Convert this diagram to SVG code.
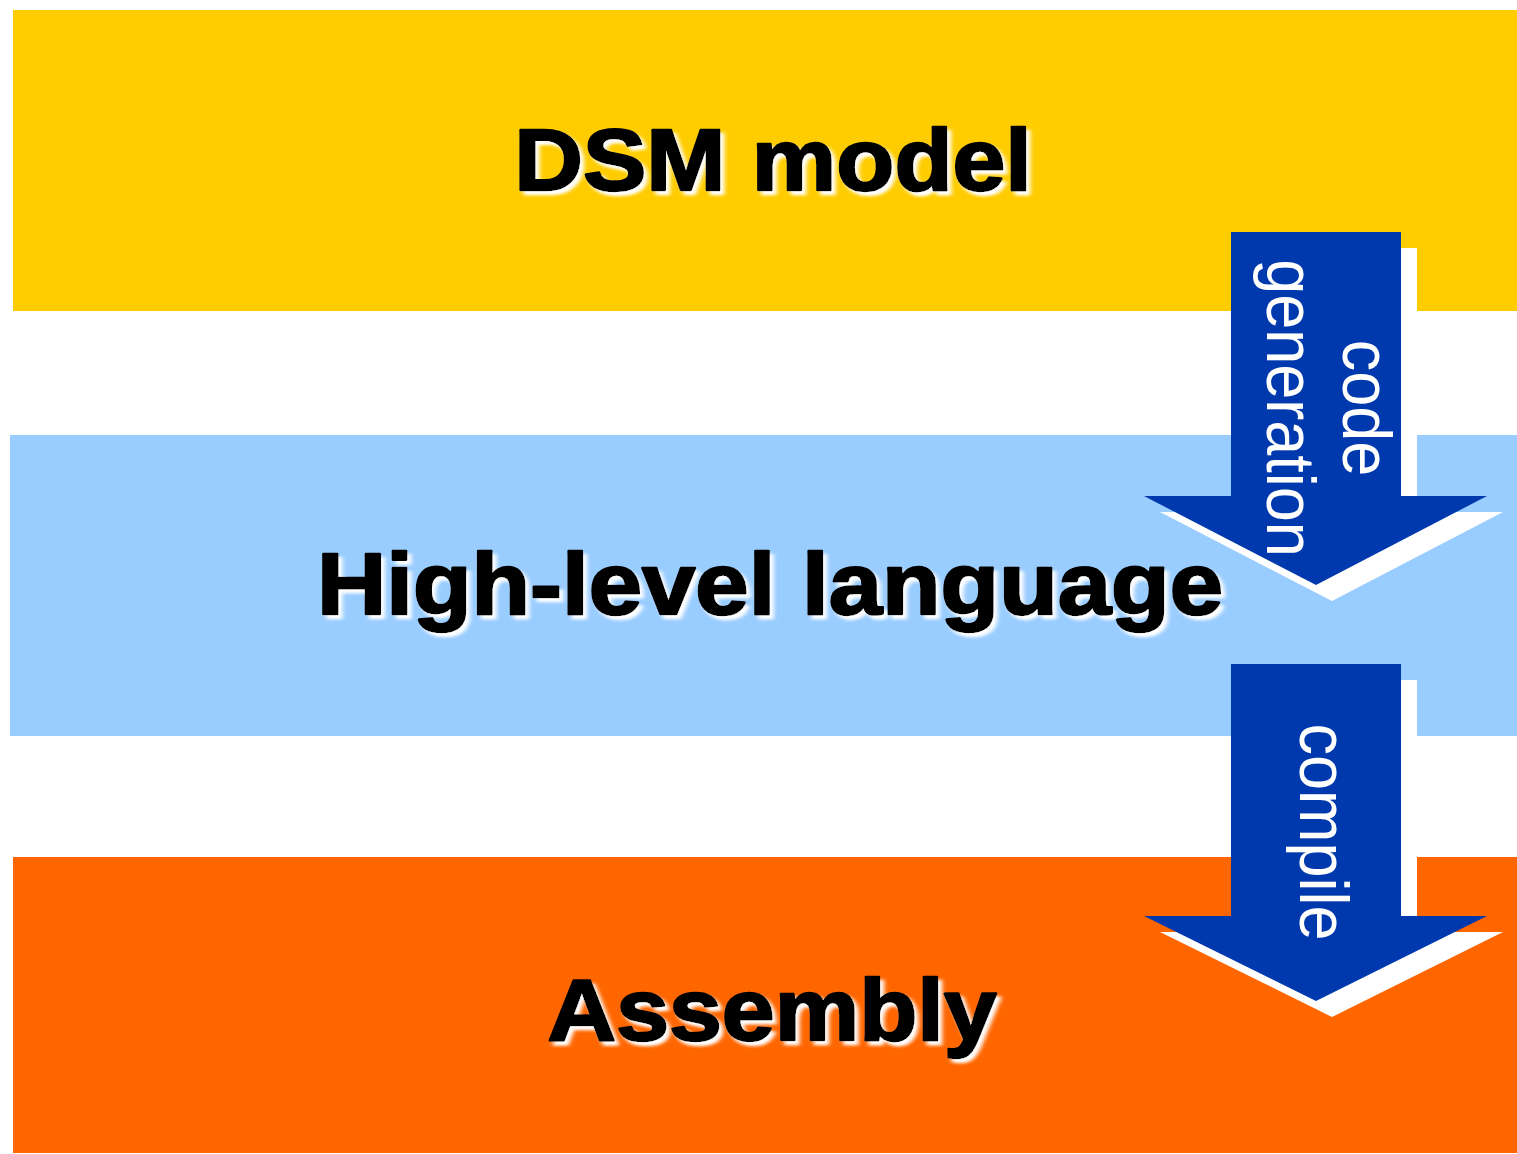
<svg xmlns="http://www.w3.org/2000/svg" width="1517" height="1154" viewBox="0 0 1517 1154">
<defs>
<style>
.band-title{font-family:"Liberation Sans",Arial,sans-serif;font-weight:bold;font-size:88px;fill:#000;stroke:#000;stroke-width:2.4px;stroke-linejoin:round;text-anchor:middle;}
.arrow-label{font-family:"Liberation Sans",Arial,sans-serif;font-size:63px;fill:#fff;text-anchor:middle;}
.arrow-body{fill:#0039AD;}
.arrow-shadow{fill:#fff;}
</style>
<filter id="glow" x="-10%" y="-30%" width="120%" height="160%">
<feGaussianBlur in="SourceAlpha" stdDeviation="1.8"/>
<feOffset dx="4" dy="4" result="b"/>
<feFlood flood-color="#ffffff"/>
<feComposite in2="b" operator="in"/>
<feMerge><feMergeNode/><feMergeNode in="SourceGraphic"/></feMerge>
</filter>
</defs>
<rect width="1517" height="1154" fill="#fff"/>
<g id="dsm-model">
<rect x="13" y="10" width="1504" height="301" fill="#FFCC00"/>
<g transform="translate(773,190) scale(1.08,1)"><text class="band-title" x="0" y="0" filter="url(#glow)">DSM model</text></g>
</g>
<g id="high-level-language">
<rect x="10" y="435" width="1507" height="301" fill="#99CCFF"/>
<g transform="translate(770,614) scale(1.09,1)"><text class="band-title" x="0" y="0" filter="url(#glow)">High-level language</text></g>
</g>
<g id="assembly">
<rect x="13" y="857" width="1504" height="296" fill="#FF6600"/>
<g transform="translate(772,1040) scale(1.08,1)"><text class="band-title" x="0" y="0" filter="url(#glow)">Assembly</text></g>
</g>
<g id="connectors">
<g id="code-generation">
<path class="arrow-shadow" transform="translate(16,16)" d="M1231,232 H1401 V496 H1487 L1316,585 L1144,496 H1231 Z"/>
<path class="arrow-body" d="M1231,232 H1401 V496 H1487 L1316,585 L1144,496 H1231 Z"/>
<g transform="translate(1343,408) rotate(90) scale(1,1.08)"><text class="arrow-label" x="0" y="0">code</text></g>
<g transform="translate(1267,408) rotate(90) scale(1,1.08)"><text class="arrow-label" x="0" y="0">generation</text></g>
</g>
<g id="compile">
<path class="arrow-shadow" transform="translate(16,16)" d="M1231,664 H1401 V916 H1487 L1316,1001 L1144,916 H1231 Z"/>
<path class="arrow-body" d="M1231,664 H1401 V916 H1487 L1316,1001 L1144,916 H1231 Z"/>
<g transform="translate(1300,832) rotate(90) scale(1,1.08)"><text class="arrow-label" x="0" y="0">compile</text></g>
</g>
</g>
</svg>
